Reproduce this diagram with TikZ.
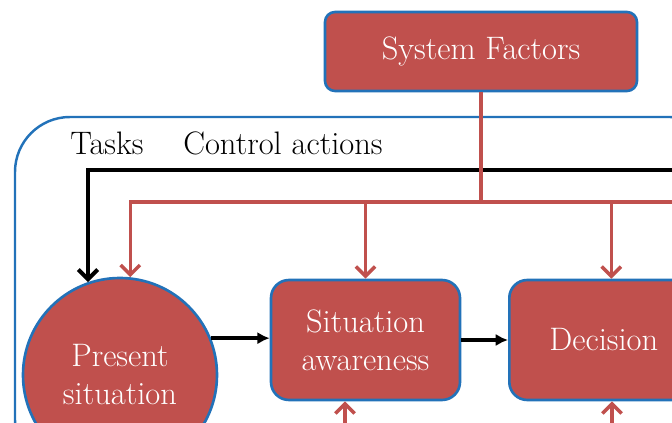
\documentclass[tikz,border=0pt]{standalone}
\usetikzlibrary{arrows.meta,calc}
\definecolor{boxred}{HTML}{C0504D}
\definecolor{boxblue}{HTML}{2272B9}

\begin{document}
\begin{tikzpicture}[>={Latex[length=7pt,width=7pt]},
  factor/.style={draw=boxblue, line width=1.5pt, fill=boxred, text=white,
    rounded corners=0.36cm, align=center, font=\fontsize{18.5}{21.6}\selectfont},
  redline/.style={draw=boxred, line width=2pt},
  blackline/.style={draw=black, line width=2.3pt},
  barb/.style={-{Straight Barb[length=5.5pt,width=11pt]}},
  caption/.style={anchor=base west, inner sep=0pt, font=\fontsize{18.5}{21.6}\selectfont}]

      \useasboundingbox (0,0) rectangle (13.44,-8.46);
      \clip (0,0) rectangle (13.44,-8.46);

      % outer frame
      \draw [draw=boxblue, line width=1.4pt, rounded corners=1.1cm]
      (0.3,-2.34) rectangle (14.5,-9.5);

      \node (sys) at (9.62,-1.03)
      [factor, minimum width=6.24cm, minimum height=1.58cm, rounded corners=0.2cm]
      {System Factors};

      \node (tasks) at (1.4,-3.1) [caption] {Tasks};
      \node (ctrl) at (3.66,-3.1) [caption] {Control actions};

      \node (pres) at (2.4,-7.5)
      [factor, circle, minimum size=3.88cm]
      {Present\\situation};

      \node (sa) at (7.31,-6.8)
      [factor, minimum width=3.78cm, minimum height=2.4cm]
      {Situation\\awareness};

      \node (dec) at (10.16,-6.8)
      [factor, anchor=west, minimum width=3.78cm, minimum height=2.4cm]
      {Decision};

      % free ends beyond the cut
      \coordinate (ctrlin) at (14,-3.4);
      \coordinate (sysbus) at (14,-4.04);
      \coordinate (sabelow) at (6.9,-9);
      \coordinate (decbelow) at (12.24,-9);
      \coordinate (decin) at ($(dec.north)+(0.15,0)$);

      \draw [blackline, barb] (ctrlin) -| (pres.109);

      \draw [redline] (sys.south) -- (sys.south |- sysbus);
      \draw [redline, barb] (sysbus) -| (pres.84);
      \draw [redline, barb] (sysbus -| sa.north) -- (sa.north);
      \draw [redline, barb] (sysbus -| decin) -- (decin);
      \draw [redline, barb] (sabelow) -- (sabelow |- sa.south);
      \draw [redline, barb] (decbelow) -- (decbelow |- dec.south);

      \draw [blackline, ->] (pres.22) -- (pres.22 -| sa.west);
      \draw [blackline, ->] (sa) -- (dec);
\end{tikzpicture}
\end{document}
